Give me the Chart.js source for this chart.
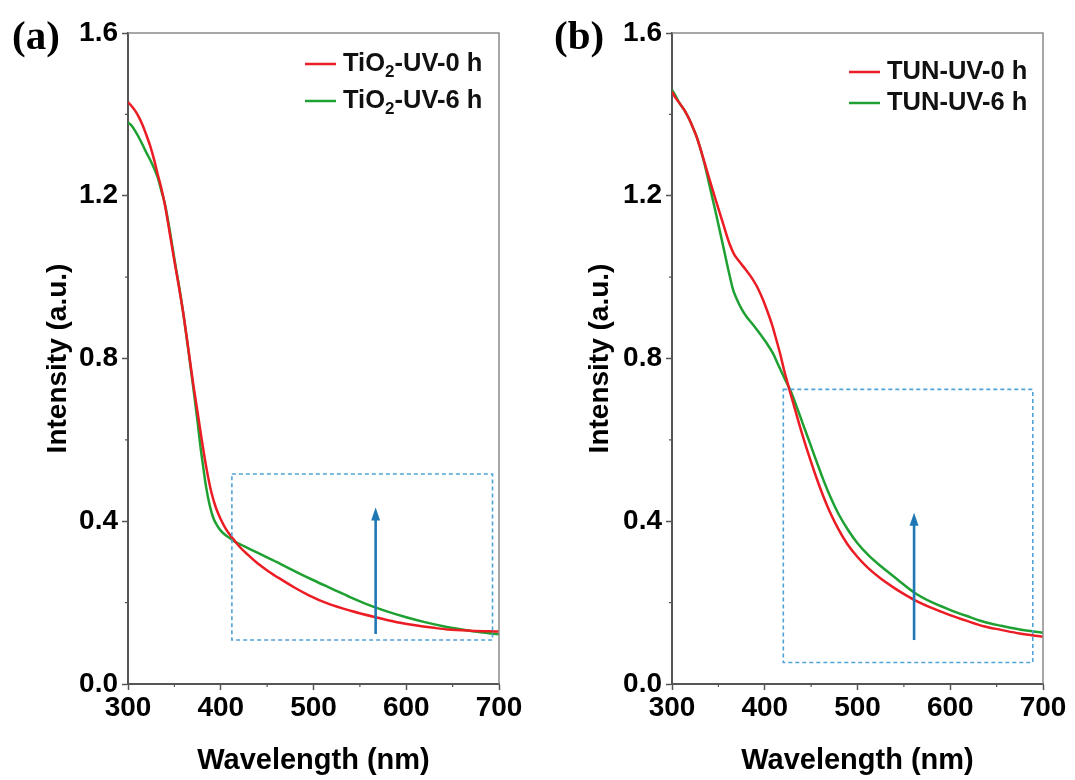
<!DOCTYPE html>
<html>
<head>
<meta charset="utf-8">
<script src="https://cdn.jsdelivr.net/npm/chart.js@4.4.1/dist/chart.umd.min.js"></script>
<style>
  html, body { margin: 0; padding: 0; background: #fff; }
  #wrap { position: relative; width: 1075px; height: 780px; }
  canvas { position: absolute; top: 0; }
  #chartA { left: 0; }
  #chartB { left: 540px; }
</style>
</head>
<body>
<div id="wrap">
  <canvas id="chartA" width="540" height="780"></canvas>
  <canvas id="chartB" width="535" height="780"></canvas>
</div>
<script>
const xTicks = [300, 400, 500, 600, 700]
const yTicks = [0.0, 0.4, 0.8, 1.2, 1.6]

// (a) TiO2 before / after 6 h UV
const labelsA = ['TiO₂-UV-0 h', 'TiO₂-UV-6 h']
const wlA0 = [300, 304, 308, 312, 316, 320, 324, 328, 332, 336, 340, 345, 350, 355, 360, 365, 370, 375, 380, 385, 390, 395, 400, 405, 410, 415, 420, 430, 440, 452, 465, 478, 495, 515, 540, 567, 590, 608, 630, 645, 670, 700]
const intA0 = [1.430, 1.420, 1.408, 1.392, 1.372, 1.348, 1.322, 1.290, 1.253, 1.218, 1.175, 1.108, 1.040, 0.975, 0.905, 0.825, 0.742, 0.668, 0.593, 0.525, 0.470, 0.432, 0.405, 0.383, 0.366, 0.352, 0.338, 0.316, 0.296, 0.276, 0.257, 0.239, 0.218, 0.198, 0.180, 0.164, 0.152, 0.145, 0.138, 0.134, 0.131, 0.129]
const wlA6 = [300, 304, 308, 312, 316, 320, 324, 328, 332, 336, 340, 345, 350, 355, 360, 365, 370, 375, 378, 381, 384, 388, 392, 396, 400, 405, 410, 415, 425, 440, 460, 480, 500, 520, 540, 560, 580, 600, 620, 640, 660, 680, 700]
const intA6 = [1.380, 1.372, 1.358, 1.342, 1.324, 1.305, 1.288, 1.268, 1.245, 1.212, 1.178, 1.115, 1.045, 0.978, 0.905, 0.821, 0.735, 0.645, 0.585, 0.535, 0.487, 0.440, 0.408, 0.390, 0.377, 0.366, 0.358, 0.350, 0.339, 0.322, 0.300, 0.277, 0.255, 0.234, 0.213, 0.194, 0.178, 0.164, 0.152, 0.142, 0.134, 0.127, 0.122]

// (b) TUN before / after 6 h UV
const labelsB = ['TUN-UV-0 h', 'TUN-UV-6 h']
const wlB0 = [300, 304, 308, 314, 319, 323, 327, 334, 341, 348, 355, 362, 367, 372, 380, 386, 392, 398, 403, 408, 412, 417, 421, 424, 428, 432, 436, 442, 449, 456, 463, 470, 480, 489, 500, 511, 524, 537, 548, 561, 580, 599, 618, 636, 655, 675, 700]
const intB0 = [1.456, 1.440, 1.428, 1.408, 1.386, 1.365, 1.342, 1.290, 1.236, 1.183, 1.132, 1.082, 1.056, 1.040, 1.017, 0.998, 0.975, 0.945, 0.915, 0.882, 0.850, 0.808, 0.770, 0.745, 0.712, 0.680, 0.648, 0.602, 0.552, 0.505, 0.462, 0.424, 0.378, 0.344, 0.312, 0.286, 0.261, 0.240, 0.224, 0.207, 0.187, 0.170, 0.155, 0.142, 0.133, 0.124, 0.116]
const wlB6 = [300, 304, 308, 314, 319, 323, 327, 334, 341, 348, 355, 362, 366, 370, 375, 380, 387, 395, 402, 409, 415, 422, 428, 434, 441, 449, 456, 463, 470, 480, 490, 500, 512, 526, 543, 561, 580, 599, 618, 636, 655, 675, 700]
const intB6 = [1.460, 1.445, 1.428, 1.408, 1.386, 1.365, 1.342, 1.288, 1.220, 1.150, 1.078, 1.005, 0.968, 0.945, 0.922, 0.904, 0.884, 0.860, 0.838, 0.812, 0.782, 0.748, 0.720, 0.684, 0.640, 0.590, 0.546, 0.503, 0.464, 0.416, 0.378, 0.346, 0.316, 0.288, 0.257, 0.225, 0.201, 0.183, 0.167, 0.153, 0.143, 0.134, 0.126]

// dashed region + arrow, in data units
const boxA = { x: [412, 693], y: [0.108, 0.516] }
const arrowA = { x: 567, y: [0.123, 0.434] }
const boxB = { x: [420, 689], y: [0.053, 0.724] }
const arrowB = { x: 561, y: [0.108, 0.421] }

const RED = '#ec1c24'
const GREEN = '#1fa032'
const AXIS = '#555555'
const FONT = '"Liberation Sans", Arial, sans-serif'

function series(wl, vals) {
    return wl.map((x, i) => ({ x: x, y: vals[i] }))
}

function midpoints(arr) {
    const out = []
    for (let i = 0; i < arr.length - 1; i++) out.push((arr[i] + arr[i + 1]) / 2)
    return out
}

const decorPlugin = {
    id: 'decor',
    afterDatasetsDraw(chart, args, opts) {
        const ctx = chart.ctx
        const xs = chart.scales.x
        const ys = chart.scales.y
        const ca = chart.chartArea
        ctx.save()

        // top and right frame
        ctx.strokeStyle = '#8a8a8a'
        ctx.lineWidth = 1.5
        ctx.beginPath()
        ctx.moveTo(ca.left, ca.top)
        ctx.lineTo(ca.right, ca.top)
        ctx.lineTo(ca.right, ca.bottom)
        ctx.stroke()

        // minor ticks
        ctx.strokeStyle = AXIS
        ctx.lineWidth = 1.2
        ctx.beginPath()
        midpoints(xTicks).forEach(v => {
            const px = xs.getPixelForValue(v)
            ctx.moveTo(px, ca.bottom)
            ctx.lineTo(px, ca.bottom + 3)
        })
        midpoints(yTicks).forEach(v => {
            const py = ys.getPixelForValue(v)
            ctx.moveTo(ca.left, py)
            ctx.lineTo(ca.left - 3, py)
        })
        ctx.stroke()

        // dashed box
        const b = opts.box
        const x1 = xs.getPixelForValue(b.x[0]), x2 = xs.getPixelForValue(b.x[1])
        const y1 = ys.getPixelForValue(b.y[1]), y2 = ys.getPixelForValue(b.y[0])
        ctx.strokeStyle = '#4fa3d6'
        ctx.lineWidth = 1.6
        ctx.setLineDash([4, 3])
        ctx.strokeRect(x1, y1, x2 - x1, y2 - y1)
        ctx.setLineDash([])

        // arrow
        const a = opts.arrow
        const ax = xs.getPixelForValue(a.x)
        const ay0 = ys.getPixelForValue(a.y[0])
        const ay1 = ys.getPixelForValue(a.y[1])
        ctx.strokeStyle = '#1f77b4'
        ctx.fillStyle = '#1f77b4'
        ctx.lineWidth = 2.6
        ctx.beginPath()
        ctx.moveTo(ax, ay0)
        ctx.lineTo(ax, ay1 + 10)
        ctx.stroke()
        ctx.beginPath()
        ctx.moveTo(ax, ay1)
        ctx.lineTo(ax - 4.5, ay1 + 13)
        ctx.lineTo(ax + 4.5, ay1 + 13)
        ctx.closePath()
        ctx.fill()

        // legend
        const lg = opts.legend
        chart.data.datasets.forEach((ds, i) => {
            const y = lg.y + i * lg.gap
            ctx.strokeStyle = ds.borderColor
            ctx.lineWidth = 2.5
            ctx.beginPath()
            ctx.moveTo(lg.x, y)
            ctx.lineTo(lg.x + 31, y)
            ctx.stroke()
            ctx.fillStyle = '#111'
            ctx.textBaseline = 'middle'
            ctx.textAlign = 'left'
            let tx = lg.x + 38
            const parts = ds.label.split('₂')
            parts.forEach((p, j) => {
                ctx.font = 'bold 25.5px ' + FONT
                ctx.fillText(p, tx, y)
                tx += ctx.measureText(p).width
                if (j < parts.length - 1) {
                    ctx.font = 'bold 17px ' + FONT
                    ctx.fillText('2', tx, y + 8)
                    tx += ctx.measureText('2').width
                }
            })
        })

        // panel letter
        ctx.fillStyle = '#000'
        ctx.font = 'bold 41px "Liberation Serif", "Times New Roman", serif'
        ctx.textAlign = 'left'
        ctx.textBaseline = 'middle'
        ctx.fillText(opts.panel, opts.panelX, 38)

        ctx.restore()
    }
}

function makeChart(id, labels, d0, d1, cfg) {
    const ctx = document.getElementById(id).getContext('2d')
    return new Chart(ctx, {
        type: 'line',
        data: {
            datasets: [{
                label: labels[0],
                data: d0,
                borderColor: RED,
                borderWidth: 2.5,
                pointRadius: 0,
                cubicInterpolationMode: 'monotone',
            }, {
                label: labels[1],
                data: d1,
                borderColor: GREEN,
                borderWidth: 2.5,
                pointRadius: 0,
                cubicInterpolationMode: 'monotone',
            }]
        },
        options: {
            responsive: false,
            devicePixelRatio: 1,
            animation: false,
            layout: { padding: { left: 0, right: cfg.padRight, top: 33, bottom: 0 } },
            plugins: {
                legend: { display: false },
                tooltip: { enabled: false },
                decor: cfg.decor,
            },
            scales: {
                x: {
                    type: 'linear',
                    min: xTicks[0],
                    max: xTicks[xTicks.length - 1],
                    afterFit: s => { s.height = 96 },
                    afterBuildTicks: s => { s.ticks = xTicks.map(v => ({ value: v })) },
                    ticks: {
                        color: '#000',
                        padding: 1,
                        maxRotation: 0,
                        font: { family: FONT, size: 28, weight: 'bold' },
                        callback: v => String(v),
                    },
                    grid: { drawOnChartArea: false, tickLength: 6, tickColor: AXIS, tickWidth: 1.5 },
                    border: { color: AXIS, width: 2 },
                    title: {
                        display: true,
                        text: 'Wavelength (nm)',
                        color: '#000',
                        font: { family: FONT, size: 29, weight: 'bold', lineHeight: 1.2 },
                        padding: { top: 0, bottom: 2 },
                    },
                },
                y: {
                    min: yTicks[0],
                    max: yTicks[yTicks.length - 1],
                    afterFit: s => { s.width = cfg.yWidth },
                    afterBuildTicks: s => { s.ticks = yTicks.map(v => ({ value: v })) },
                    ticks: {
                        color: '#000',
                        padding: 4,
                        font: { family: FONT, size: 28, weight: 'bold' },
                        callback: v => v.toFixed(1),
                    },
                    grid: { drawOnChartArea: false, tickLength: 6, tickColor: AXIS, tickWidth: 1.5 },
                    border: { color: AXIS, width: 2 },
                    title: {
                        display: true,
                        text: 'Intensity (a.u.)',
                        color: '#000',
                        font: { family: FONT, size: 28, weight: 'bold', lineHeight: 1.2 },
                        padding: { top: cfg.titlePad, bottom: 0 },
                    },
                }
            }
        },
        plugins: [decorPlugin]
    })
}

makeChart('chartA', labelsA, series(wlA0, intA0), series(wlA6, intA6), {
    padRight: 41,
    yWidth: 128,
    titlePad: 41,
    decor: { panel: '(a)', panelX: 12, box: boxA, arrow: arrowA, legend: { x: 305, y: 64, gap: 37 } },
})

makeChart('chartB', labelsB, series(wlB0, intB0), series(wlB6, intB6), {
    padRight: 32,
    yWidth: 132,
    titlePad: 43,
    decor: { panel: '(b)', panelX: 14, box: boxB, arrow: arrowB, legend: { x: 309, y: 72, gap: 31 } },
})
</script>
</body>
</html>
